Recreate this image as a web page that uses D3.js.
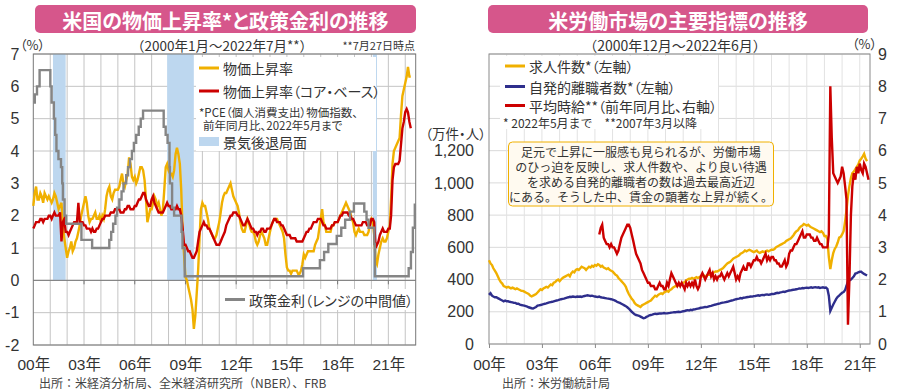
<!DOCTYPE html>
<html>
<head>
<meta charset="utf-8">
<script src="https://cdn.jsdelivr.net/npm/d3@7"></script>
<style>
body { margin: 0; background: #fff; }
svg text { font-family: "Liberation Sans", "Noto Sans CJK JP", sans-serif; fill: #333; }
.jp { font-family: "Noto Sans CJK JP", sans-serif; }
.palt { font-feature-settings: "palt"; }
</style>
</head>
<body>
<svg id="chart" width="900" height="390"></svg>
<script>
// ---------- left chart: PCE inflation, monthly from 2000-01 to 2022-05 (%)
var pce = [
    2.3, 2.7, 2.9, 2.5, 2.5, 2.7, 2.6, 2.4, 2.7, 2.6, 2.5, 2.6,   // 2000
    2.5, 2.4, 2.5, 2.7, 2.6, 2.4, 2.2, 2.3, 2.4, 1.7, 1.3, 1.0,   // 2001
    0.7, 0.9, 1.0, 1.2, 0.9, 1.0, 1.2, 1.3, 1.5, 1.7, 2.0, 2.2,   // 2002
    2.4, 2.6, 2.4, 2.0, 1.8, 1.9, 1.9, 2.0, 2.1, 1.9, 1.9, 2.0,   // 2003
    1.8, 2.0, 1.9, 2.2, 2.6, 2.8, 2.9, 2.6, 2.5, 2.7, 2.8, 2.8,   // 2004
    2.8, 2.9, 3.1, 3.3, 3.0, 2.9, 3.1, 3.3, 3.8, 3.6, 3.2, 3.1,   // 2005
    3.2, 3.0, 3.1, 3.3, 3.5, 3.5, 3.4, 3.1, 2.5, 1.8, 2.0, 2.2,   // 2006
    2.2, 2.4, 2.6, 2.5, 2.3, 2.4, 2.2, 2.0, 2.2, 2.8, 3.5, 3.6,   // 2007
    3.4, 3.3, 3.3, 3.2, 3.4, 3.9, 4.1, 3.9, 3.6, 2.8, 1.5, 0.8,   // 2008
    0.1, 0.0, -0.2, -0.4, -0.6, -0.9, -1.5, -1.1, -0.4, 0.3, 1.3, 2.2, // 2009
    2.4, 2.3, 2.3, 2.1, 1.9, 1.6, 1.5, 1.4, 1.3, 1.3, 1.4, 1.6,   // 2010
    1.8, 2.1, 2.4, 2.6, 2.7, 2.7, 2.8, 2.9, 3.0, 2.8, 2.6, 2.5,   // 2011
    2.4, 2.3, 2.1, 1.8, 1.6, 1.5, 1.5, 1.7, 1.9, 1.8, 1.6, 1.5,   // 2012
    1.5, 1.4, 1.2, 1.1, 1.2, 1.4, 1.5, 1.4, 1.3, 1.1, 1.1, 1.3,   // 2013
    1.5, 1.7, 1.8, 1.9, 1.9, 1.9, 1.8, 1.7, 1.6, 1.5, 1.3, 0.8,   // 2014
    0.4, 0.3, 0.3, 0.2, 0.3, 0.3, 0.3, 0.3, 0.2, 0.2, 0.3, 0.5,   // 2015
    0.8, 0.7, 0.8, 0.9, 0.9, 0.9, 0.9, 0.9, 1.1, 1.2, 1.3, 1.6,   // 2016
    1.9, 2.2, 1.8, 1.7, 1.5, 1.5, 1.5, 1.5, 1.7, 1.7, 1.8, 1.8,   // 2017
    1.8, 1.9, 2.0, 2.1, 2.2, 2.3, 2.4, 2.3, 2.2, 2.1, 1.9, 1.8,   // 2018
    1.5, 1.4, 1.5, 1.6, 1.5, 1.5, 1.5, 1.4, 1.4, 1.4, 1.5, 1.8,   // 2019
    1.9, 1.8, 1.4, 0.6, 0.5, 0.8, 1.0, 1.2, 1.3, 1.2, 1.2, 1.3,   // 2020
    1.5, 1.7, 2.5, 3.6, 4.0, 4.1, 4.2, 4.3, 4.4, 5.1, 5.7, 5.9,   // 2021
    6.1, 6.3, 6.6, 6.3, 6.3                                       // 2022
];

// core PCE, same months
var pceCore = [
    1.6, 1.7, 1.8, 1.8, 1.8, 1.9, 1.9, 1.8, 1.9, 1.9, 1.9, 2.0,
    2.0, 1.9, 2.0, 2.1, 2.0, 2.0, 2.0, 2.1, 1.2, 1.8, 1.9, 1.5,
    1.5, 1.4, 1.5, 1.6, 1.7, 1.8, 1.8, 1.8, 2.4, 1.8, 1.8, 1.8,
    1.7, 1.7, 1.6, 1.6, 1.6, 1.5, 1.6, 1.5, 1.5, 1.6, 1.6, 1.7,
    1.8, 1.9, 1.9, 2.0, 2.0, 2.0, 2.0, 2.1, 2.1, 2.1, 2.2, 2.2,
    2.2, 2.2, 2.1, 2.1, 2.1, 2.2, 2.2, 2.3, 2.3, 2.2, 2.2, 2.2,
    2.3, 2.3, 2.4, 2.5, 2.5, 2.6, 2.7, 2.7, 2.5, 2.4, 2.3, 2.3,
    2.5, 2.6, 2.4, 2.3, 2.2, 2.1, 2.1, 2.1, 2.1, 2.2, 2.3, 2.4,
    2.3, 2.3, 2.2, 2.2, 2.2, 2.2, 2.3, 2.2, 2.2, 2.0, 1.6, 1.1,
    1.1, 1.0, 0.9, 0.9, 0.8, 0.7, 0.7, 0.8, 0.9, 1.2, 1.5, 1.6,
    1.7, 1.8, 1.7, 1.7, 1.6, 1.6, 1.5, 1.4, 1.3, 1.2, 1.1, 1.1,
    1.1, 1.2, 1.3, 1.4, 1.5, 1.7, 1.8, 1.9, 2.0, 2.0, 2.1, 2.1,
    2.1, 2.0, 2.0, 1.9, 1.8, 1.7, 1.7, 1.8, 1.9, 1.8, 1.7, 1.6,
    1.6, 1.5, 1.5, 1.4, 1.5, 1.5, 1.6, 1.6, 1.5, 1.5, 1.6, 1.6,
    1.6, 1.7, 1.8, 1.9, 1.9, 1.8, 1.8, 1.8, 1.7, 1.7, 1.6, 1.5,
    1.4, 1.4, 1.4, 1.3, 1.3, 1.3, 1.3, 1.2, 1.2, 1.2, 1.2, 1.2,
    1.3, 1.4, 1.5, 1.5, 1.6, 1.6, 1.7, 1.8, 1.8, 1.8, 1.9, 1.9,
    1.9, 1.8, 1.7, 1.7, 1.6, 1.6, 1.6, 1.6, 1.7, 1.7, 1.8, 1.8,
    1.8, 1.9, 2.0, 2.0, 2.1, 2.1, 2.1, 2.1, 2.0, 2.0, 1.9, 1.9,
    1.8, 1.7, 1.7, 1.7, 1.7, 1.7, 1.8, 1.8, 1.8, 1.7, 1.7, 1.7,
    1.9, 1.9, 1.8, 1.0, 1.1, 1.2, 1.4, 1.5, 1.6, 1.5, 1.5, 1.5,
    1.6, 1.6, 2.0, 3.1, 3.5, 3.6, 3.6, 3.6, 3.7, 4.2, 4.7, 4.9,
    5.2, 5.3, 5.2, 4.9, 4.7
];

// policy rate (midpoint of the target range), date of each change
var fedDates = [
    "2000-01-01", "2000-02-02", "2000-03-21", "2000-05-16",
    "2001-01-03", "2001-01-31", "2001-03-20", "2001-04-18", "2001-05-15", "2001-06-27",
    "2001-08-21", "2001-09-17", "2001-10-02", "2001-11-06", "2001-12-11",
    "2002-11-06", "2003-06-25",
    "2004-06-30", "2004-08-10", "2004-09-21", "2004-11-10", "2004-12-14",
    "2005-02-02", "2005-03-22", "2005-05-03", "2005-06-30", "2005-08-09", "2005-09-20",
    "2005-11-01", "2005-12-13",
    "2006-01-31", "2006-03-28", "2006-05-10", "2006-06-29",
    "2007-09-18", "2007-10-31", "2007-12-11",
    "2008-01-22", "2008-01-30", "2008-03-18", "2008-04-30", "2008-10-08", "2008-10-29", "2008-12-16",
    "2015-12-16", "2016-12-14",
    "2017-03-15", "2017-06-14", "2017-12-13",
    "2018-03-21", "2018-06-13", "2018-09-26", "2018-12-19",
    "2019-07-31", "2019-09-18", "2019-10-30",
    "2020-03-03", "2020-03-15",
    "2022-03-16", "2022-05-04", "2022-06-15", "2022-07-27"
];
var fedRates = [
    5.5, 5.75, 6.0, 6.5,
    6.0, 5.5, 5.0, 4.5, 4.0, 3.75,
    3.5, 3.0, 2.5, 2.0, 1.75,
    1.25, 1.0,
    1.25, 1.5, 1.75, 2.0, 2.25,
    2.5, 2.75, 3.0, 3.25, 3.5, 3.75,
    4.0, 4.25,
    4.5, 4.75, 5.0, 5.25,
    4.75, 4.5, 4.25,
    3.5, 3.0, 2.25, 2.0, 1.5, 1.0, 0.125,
    0.375, 0.625,
    0.875, 1.125, 1.375,
    1.625, 1.875, 2.125, 2.375,
    2.125, 1.875, 1.625,
    1.125, 0.125,
    0.375, 0.875, 1.625, 2.375
];

var recessionStart = ["2001-03-01", "2007-12-01", "2020-02-01"];
var recessionEnd = ["2001-11-30", "2009-06-30", "2020-04-30"];

var leftYTicks = [-2, -1, 0, 1, 2, 3, 4, 5, 6, 7];
var leftYearTicks = [2000, 2003, 2006, 2009, 2012, 2015, 2018, 2021];

// ---------- right chart: JOLTS, monthly from 2000-12 to 2022-05 (10k)
var openings = [
    520,                                                          // 2000-12
    500, 490, 470, 455, 440, 420, 400, 385, 375, 360, 355, 350,   // 2001
    355, 350, 345, 350, 345, 340, 345, 340, 335, 330, 330, 325,   // 2002
    320, 315, 310, 300, 295, 300, 305, 310, 320, 330, 340, 335,   // 2003
    345, 350, 355, 350, 360, 370, 365, 380, 385, 395, 400, 390,   // 2004
    400, 410, 415, 420, 425, 430, 420, 440, 450, 445, 460, 465,   // 2005
    460, 470, 480, 475, 470, 460, 470, 480, 475, 485, 480, 490,   // 2006
    485, 495, 490, 480, 485, 475, 470, 465, 470, 460, 455, 450,   // 2007
    440, 430, 425, 410, 400, 390, 380, 370, 355, 330, 310, 295,   // 2008
    280, 270, 255, 245, 240, 235, 230, 240, 245, 250, 255, 260,   // 2009
    265, 270, 280, 290, 300, 295, 305, 310, 315, 310, 320, 325,   // 2010
    330, 325, 335, 340, 350, 355, 360, 360, 365, 370, 375, 380,   // 2011
    385, 395, 400, 405, 405, 410, 405, 410, 415, 410, 415, 420,   // 2012
    420, 425, 420, 425, 430, 430, 435, 440, 445, 450, 450, 455,   // 2013
    460, 465, 470, 480, 490, 500, 505, 510, 520, 530, 535, 540,   // 2014
    545, 550, 560, 565, 570, 580, 575, 580, 585, 580, 575, 570,   // 2015
    575, 580, 570, 565, 570, 575, 570, 575, 580, 575, 580, 585,   // 2016
    585, 590, 600, 605, 610, 615, 620, 625, 630, 640, 645, 650,   // 2017
    655, 665, 675, 690, 700, 705, 720, 730, 735, 745, 740, 735,   // 2018
    740, 730, 725, 720, 715, 710, 705, 700, 695, 700, 690, 670,   // 2019
    670, 650, 540, 465, 520, 565, 590, 605, 630, 660, 665, 680,   // 2020
    700, 760, 830, 920, 980, 1030, 1060, 1070, 1085, 1100, 1115, 1140, // 2021
    1150, 1165, 1180, 1150, 1135                                  // 2022
];

var quits = [
    305,
    315, 300, 295, 290, 290, 285, 280, 275, 270, 265, 270, 265,
    265, 262, 260, 258, 255, 255, 250, 250, 245, 242, 240, 238,
    235, 232, 228, 225, 222, 220, 225, 230, 238, 240, 242, 245,
    248, 250, 252, 255, 258, 260, 262, 265, 268, 270, 272, 275,
    278, 280, 282, 285, 288, 290, 293, 292, 295, 293, 292, 295,
    293, 295, 292, 295, 298, 300, 302, 300, 298, 300, 297, 295,
    293, 292, 294, 290, 288, 287, 285, 283, 282, 280, 278, 275,
    272, 268, 262, 258, 255, 250, 245, 240, 235, 228, 220, 210,
    200, 192, 185, 180, 178, 175, 170, 165, 160, 162, 168, 172,
    178, 180, 182, 185, 188, 186, 188, 190, 189, 190, 192, 190,
    190, 192, 193, 195, 196, 198, 197, 199, 200, 198, 201, 203,
    205, 208, 210, 208, 212, 210, 214, 215, 218, 220, 222, 225,
    226, 228, 230, 229, 232, 235, 237, 240, 243, 245, 248, 250,
    252, 255, 257, 258, 260, 262, 265, 268, 270, 272, 275, 278,
    280, 282, 285, 283, 287, 288, 290, 292, 293, 295, 294, 297,
    298, 300, 302, 300, 303, 305, 303, 306, 308, 305, 307, 310,
    310, 312, 315, 318, 316, 320, 322, 325, 323, 327, 330, 332,
    333, 335, 337, 338, 340, 342, 345, 344, 347, 346, 348, 350,
    348, 350, 352, 349, 351, 353, 350, 352, 348, 350, 352, 349,
    350, 342, 300, 205, 225, 245, 262, 280, 293, 300, 310, 318,
    322, 335, 360, 390, 395, 400, 410, 420, 437, 440, 445, 448,
    448, 440, 435, 430, 425
];

// average hourly earnings, yoy %, monthly from 2007-03 to 2022-06
var wages = [
    3.4, 3.6, 3.7, 3.3, 3.2, 3.1, 3.1, 3.0, 3.1, 3.0,             // 2007
    3.0, 2.9, 2.8, 2.9, 3.1, 3.3, 3.4, 3.5, 3.6, 3.7, 3.7, 3.6,   // 2008
    3.4, 3.2, 3.0, 2.8, 2.7, 2.6, 2.5, 2.3, 2.2, 2.1, 2.0, 1.9,   // 2009
    1.9, 1.8, 1.8, 1.8, 1.7, 1.7, 1.8, 1.9, 1.8, 1.8, 1.7, 1.7,   // 2010
    1.9, 1.8, 2.0, 2.2, 2.1, 2.0, 1.9, 1.8, 1.9, 1.8, 1.9, 1.8,   // 2011
    1.7, 1.9, 1.8, 1.9, 1.8, 1.9, 1.8, 2.0, 1.8, 1.7, 1.8, 2.1,   // 2012
    2.2, 2.1, 2.0, 2.1, 2.2, 2.3, 2.1, 2.2, 2.0, 2.1, 2.0, 2.1,   // 2013
    2.1, 2.2, 2.1, 2.0, 2.1, 2.2, 2.1, 2.2, 2.3, 2.4, 2.2, 2.0,   // 2014
    2.1, 2.0, 2.2, 2.3, 2.4, 2.3, 2.3, 2.5, 2.5, 2.4, 2.5, 2.6,   // 2015
    2.6, 2.7, 2.6, 2.6, 2.5, 2.6, 2.7, 2.8, 2.6, 2.7, 2.6, 2.7,   // 2016
    2.7, 2.6, 2.6, 2.5, 2.5, 2.4, 2.4, 2.5, 2.6, 2.4, 2.5, 2.8,   // 2017
    2.9, 2.9, 3.0, 3.1, 3.1, 3.2, 3.3, 3.4, 3.5, 3.3, 3.3, 3.4,   // 2018
    3.4, 3.4, 3.3, 3.3, 3.2, 3.2, 3.3, 3.2, 3.1, 3.1, 3.0, 3.0,   // 2019
    3.0, 3.0, 3.4, 8.0, 6.4, 5.3, 5.2, 5.1, 5.0, 5.1, 5.2, 5.5,   // 2020
    5.3, 4.9, 4.5, 0.6, 2.0, 4.0, 4.9, 5.3, 5.1, 5.5, 5.3, 5.6,   // 2021
    5.4, 5.3, 5.6, 5.5, 5.3, 5.1                                  // 2022
];

var rightLeftTicks = [0, 200, 400, 600, 800, 1000, 1200];
var rightRightTicks = [0, 1, 2, 3, 4, 5, 6, 7, 8, 9];
var rightYearTicks = [2000, 2003, 2006, 2009, 2012, 2015, 2018, 2021];

// colours
var cOrange = "#f0b000";
var cRed = "#cc0000";
var cGray = "#858585";
var cNavy = "#2e2e8c";
var cBand = "#bdd7ef";
var cPink = "#d6568b";

var svg = d3.select("#chart");

// turn a list of monthly values into points
function monthly(startYear, startMonth, values)
{
    return values.map(function(v, i) {
        return { date: new Date(startYear, startMonth + i, 1), value: v };
    });
}

function header(x0, x1, title)
{
    svg.append("rect")
        .attr("x", x0).attr("y", 5)
        .attr("width", x1 - x0).attr("height", 28)
        .attr("rx", 5)
        .style("fill", cPink);
    svg.append("text")
        .attr("class", "jp palt")
        .attr("x", (x0 + x1) / 2).attr("y", 20)
        .attr("text-anchor", "middle")
        .attr("dominant-baseline", "central")
        .style("font-size", "20px")
        .style("font-weight", "bold")
        .style("fill", "#fff")
        .text(title);
}

// palt: proportional punctuation, used for the tighter legend texts
function label(x, y, str, size, anchor, palt)
{
    return svg.append("text")
        .attr("class", palt ? "jp palt" : "jp")
        .attr("x", x).attr("y", y)
        .attr("text-anchor", anchor || "start")
        .attr("dominant-baseline", "central")
        .style("font-size", size + "px")
        .text(str);
}

function legendLine(x, y, color, str)
{
    svg.append("line")
        .attr("x1", x).attr("x2", x + 20)
        .attr("y1", y).attr("y2", y)
        .style("stroke", color)
        .style("stroke-width", 3);
    label(x + 24, y, str, 14, "start", true);
}

/**
 *   leftChart()   inflation vs policy rate
 */
function leftChart()
{
    var left = 33.3, right = 415.7, top = 54, bottom = 345;

    var x = d3.scaleTime()
        .domain([new Date(2000, 0, 1), new Date(2022, 7, 15)])
        .range([left, right]);
    var y = d3.scaleLinear().domain([-2, 7]).range([bottom, top]);

    header(35, 416, "米国の物価上昇率*と政策金利の推移");
    label(222, 44.5, "（2000年1月～2022年7月**）", 13.5, "middle");
    label(415, 45, "**7月27日時点", 11, "end");
    label(20, 44, "（%）", 13, "start", true);

    var g = svg.append("g");

    // grid
    g.selectAll(".hgrid")
        .data(leftYTicks)
      .enter().append("line")
        .attr("x1", left).attr("x2", right)
        .attr("y1", function(d) { return y(d); })
        .attr("y2", function(d) { return y(d); })
        .style("stroke", "#c4c4c4");
    var years = d3.range(2001, 2023).map(function(yr) { return new Date(yr, 0, 1); });
    g.selectAll(".vgrid")
        .data(years)
      .enter().append("line")
        .attr("x1", function(d) { return x(d); })
        .attr("x2", function(d) { return x(d); })
        .attr("y1", top).attr("y2", bottom)
        .style("stroke", "#c4c4c4");

    // recessions
    g.selectAll(".band")
        .data(recessionStart)
      .enter().append("rect")
        .attr("x", function(d) { return x(new Date(d)); })
        .attr("width", function(d, i) { return Math.max(1.5, x(new Date(recessionEnd[i])) - x(new Date(d))); })
        .attr("y", top).attr("height", y(0) - top)
        .style("fill", cBand);

    // zero line with small ticks
    g.append("line")
        .attr("x1", left).attr("x2", right)
        .attr("y1", y(0)).attr("y2", y(0))
        .style("stroke", "#777");
    g.selectAll(".zt")
        .data(leftYearTicks.slice(1))
      .enter().append("line")
        .attr("x1", function(d) { return x(new Date(d, 0, 1)); })
        .attr("x2", function(d) { return x(new Date(d, 0, 1)); })
        .attr("y1", y(0)).attr("y2", y(0) + 4)
        .style("stroke", "#777");

    g.append("rect")
        .attr("x", left).attr("y", top)
        .attr("width", right - left).attr("height", bottom - top)
        .style("fill", "none")
        .style("stroke", "#777");

    var line = d3.line()
        .x(function(d) { return x(d.date); })
        .y(function(d) { return y(d.value); });

    g.append("path")
        .datum(monthly(2000, 0, pce))
        .attr("d", line)
        .style("fill", "none").style("stroke", cOrange).style("stroke-width", 2.4);
    g.append("path")
        .datum(monthly(2000, 0, pceCore))
        .attr("d", line)
        .style("fill", "none").style("stroke", cRed).style("stroke-width", 2.4);

    var fed = fedDates.map(function(d, i) { return { date: new Date(d), value: fedRates[i] }; });
    g.append("path")
        .datum(fed)
        .attr("d", line.curve(d3.curveStepAfter))
        .style("fill", "none").style("stroke", cGray).style("stroke-width", 2.4);

    // axes
    var yAxis = svg.append("g")
        .attr("transform", "translate(" + left + ",0)")
        .call(d3.axisLeft(y).tickValues(leftYTicks)
            .tickFormat(function(d) { return String(d); })
            .tickSize(0).tickPadding(14));
    yAxis.select(".domain").remove();
    yAxis.selectAll("text").style("font-size", "16px").style("fill", "#333");

    var xAxis = svg.append("g")
        .attr("transform", "translate(0," + bottom + ")")
        .call(d3.axisBottom(x)
            .tickValues(leftYearTicks.map(function(yr) { return new Date(yr, 0, 1); }))
            .tickFormat(function(d) { return d3.timeFormat("%y")(d) + "年"; })
            .tickSize(0).tickPadding(14));
    xAxis.select(".domain").remove();
    xAxis.selectAll("text").style("font-size", "15.5px").style("fill", "#333");

    // legend
    svg.append("rect")
        .attr("x", 196).attr("y", 57)
        .attr("width", 180).attr("height", 94)
        .style("fill", "#fff");
    legendLine(199, 68, cOrange, "物価上昇率");
    legendLine(199, 91, cRed, "物価上昇率（コア・ベース）");
    label(199, 112, "*PCE（個人消費支出）物価指数、", 11.5, "start", true);
    label(203, 125, "前年同月比、2022年5月まで", 11.5, "start", true);
    svg.append("rect")
        .attr("x", 199).attr("y", 137)
        .attr("width", 20).attr("height", 9)
        .style("fill", cBand);
    label(223, 141.5, "景気後退局面", 14, "start", true);

    svg.append("rect")
        .attr("x", 222).attr("y", 289)
        .attr("width", 190).attr("height", 21)
        .style("fill", "#fff");
    legendLine(225, 299.5, cGray, "政策金利（レンジの中間値）");

    label(39, 382.5, "出所：米経済分析局、全米経済研究所（NBER）、FRB", 12).style("fill", "#444");
}

/**
 *   rightChart()   labour market indicators
 */
function rightChart()
{
    var left = 489, right = 870, top = 54, bottom = 344;

    var x = d3.scaleTime()
        .domain([new Date(2000, 11, 1), new Date(2022, 6, 1)])
        .range([left, right]);
    var yL = d3.scaleLinear().domain([0, 1800]).range([bottom, top]);
    var yR = d3.scaleLinear().domain([0, 9]).range([bottom, top]);

    header(488, 868, "米労働市場の主要指標の推移");
    label(675, 44.5, "（2000年12月～2022年6月）", 14, "middle");
    label(877, 43, "（%）", 13, "end", true);
    label(486, 133, "（万件・人）", 13.5, "end", true);

    var g = svg.append("g");

    g.selectAll(".hgrid")
        .data(rightRightTicks)
      .enter().append("line")
        .attr("x1", left).attr("x2", right)
        .attr("y1", function(d) { return yR(d); })
        .attr("y2", function(d) { return yR(d); })
        .style("stroke", "#dadada");
    var years = d3.range(2001, 2022).map(function(yr) { return new Date(yr, 11, 1); });
    g.selectAll(".vgrid")
        .data(years)
      .enter().append("line")
        .attr("x1", function(d) { return x(d); })
        .attr("x2", function(d) { return x(d); })
        .attr("y1", top).attr("y2", bottom)
        .style("stroke", "#e2e2e2");

    g.append("rect")
        .attr("x", left).attr("y", top)
        .attr("width", right - left).attr("height", bottom - top)
        .style("fill", "none")
        .style("stroke", "#8a8a8a");

    var lineL = d3.line()
        .x(function(d) { return x(d.date); })
        .y(function(d) { return yL(d.value); });
    var lineR = d3.line()
        .x(function(d) { return x(d.date); })
        .y(function(d) { return yR(d.value); });

    g.append("path")
        .datum(monthly(2000, 11, openings))
        .attr("d", lineL)
        .style("fill", "none").style("stroke", cOrange).style("stroke-width", 2.4);
    g.append("path")
        .datum(monthly(2000, 11, quits))
        .attr("d", lineL)
        .style("fill", "none").style("stroke", cNavy).style("stroke-width", 2.4);
    g.append("path")
        .datum(monthly(2007, 2, wages))
        .attr("d", lineR)
        .style("fill", "none").style("stroke", cRed).style("stroke-width", 2.4);

    var aL = svg.append("g")
        .attr("transform", "translate(" + left + ",0)")
        .call(d3.axisLeft(yL).tickValues(rightLeftTicks).tickFormat(d3.format(",")).tickSize(0).tickPadding(15));
    aL.select(".domain").remove();
    aL.selectAll("text").style("font-size", "16px").style("fill", "#333");

    var aR = svg.append("g")
        .attr("transform", "translate(" + right + ",0)")
        .call(d3.axisRight(yR).tickValues(rightRightTicks).tickSize(0).tickPadding(8));
    aR.select(".domain").remove();
    aR.selectAll("text").style("font-size", "16px").style("fill", "#333");

    var aB = svg.append("g")
        .attr("transform", "translate(0," + bottom + ")")
        .call(d3.axisBottom(x)
            .tickValues(rightYearTicks.map(function(yr) { return new Date(yr, 11, 1); }))
            .tickFormat(function(d) { return d3.timeFormat("%y")(d) + "年"; })
            .tickSize(4).tickPadding(11));
    aB.select(".domain").remove();
    aB.selectAll("line").style("stroke", "#8a8a8a");
    aB.selectAll("text").style("font-size", "15.5px").style("fill", "#333");

    // legend
    svg.append("rect")
        .attr("x", 500).attr("y", 56)
        .attr("width", 218).attr("height", 73)
        .style("fill", "#fff");
    legendLine(505, 66, cOrange, "求人件数*（左軸）");
    legendLine(505, 86.5, cNavy, "自発的離職者数*（左軸）");
    legendLine(505, 105.5, cRed, "平均時給**（前年同月比、右軸）");
    label(503, 122, "* 2022年5月まで　**2007年3月以降", 12);

    // note box
    svg.append("rect")
        .attr("x", 508.5).attr("y", 142)
        .attr("width", 265).attr("height", 64)
        .attr("rx", 4)
        .style("fill", "#fffaf0")
        .style("stroke", "#f0b000");
    var note = [
        "足元で上昇に一服感も見られるが、労働市場",
        "のひっ迫を反映し、求人件数や、より良い待遇",
        "を求める自発的離職者の数は過去最高近辺",
        "にある。そうした中、賃金の顕著な上昇が続く。"
    ];
    note.forEach(function(s, i) {
        label(641, 151 + i * 15.3, s, 12, "middle");
    });

    label(502, 382.5, "出所：米労働統計局", 12).style("fill", "#444");
}

// Starts here
leftChart();
rightChart();
</script>
</body>
</html>
